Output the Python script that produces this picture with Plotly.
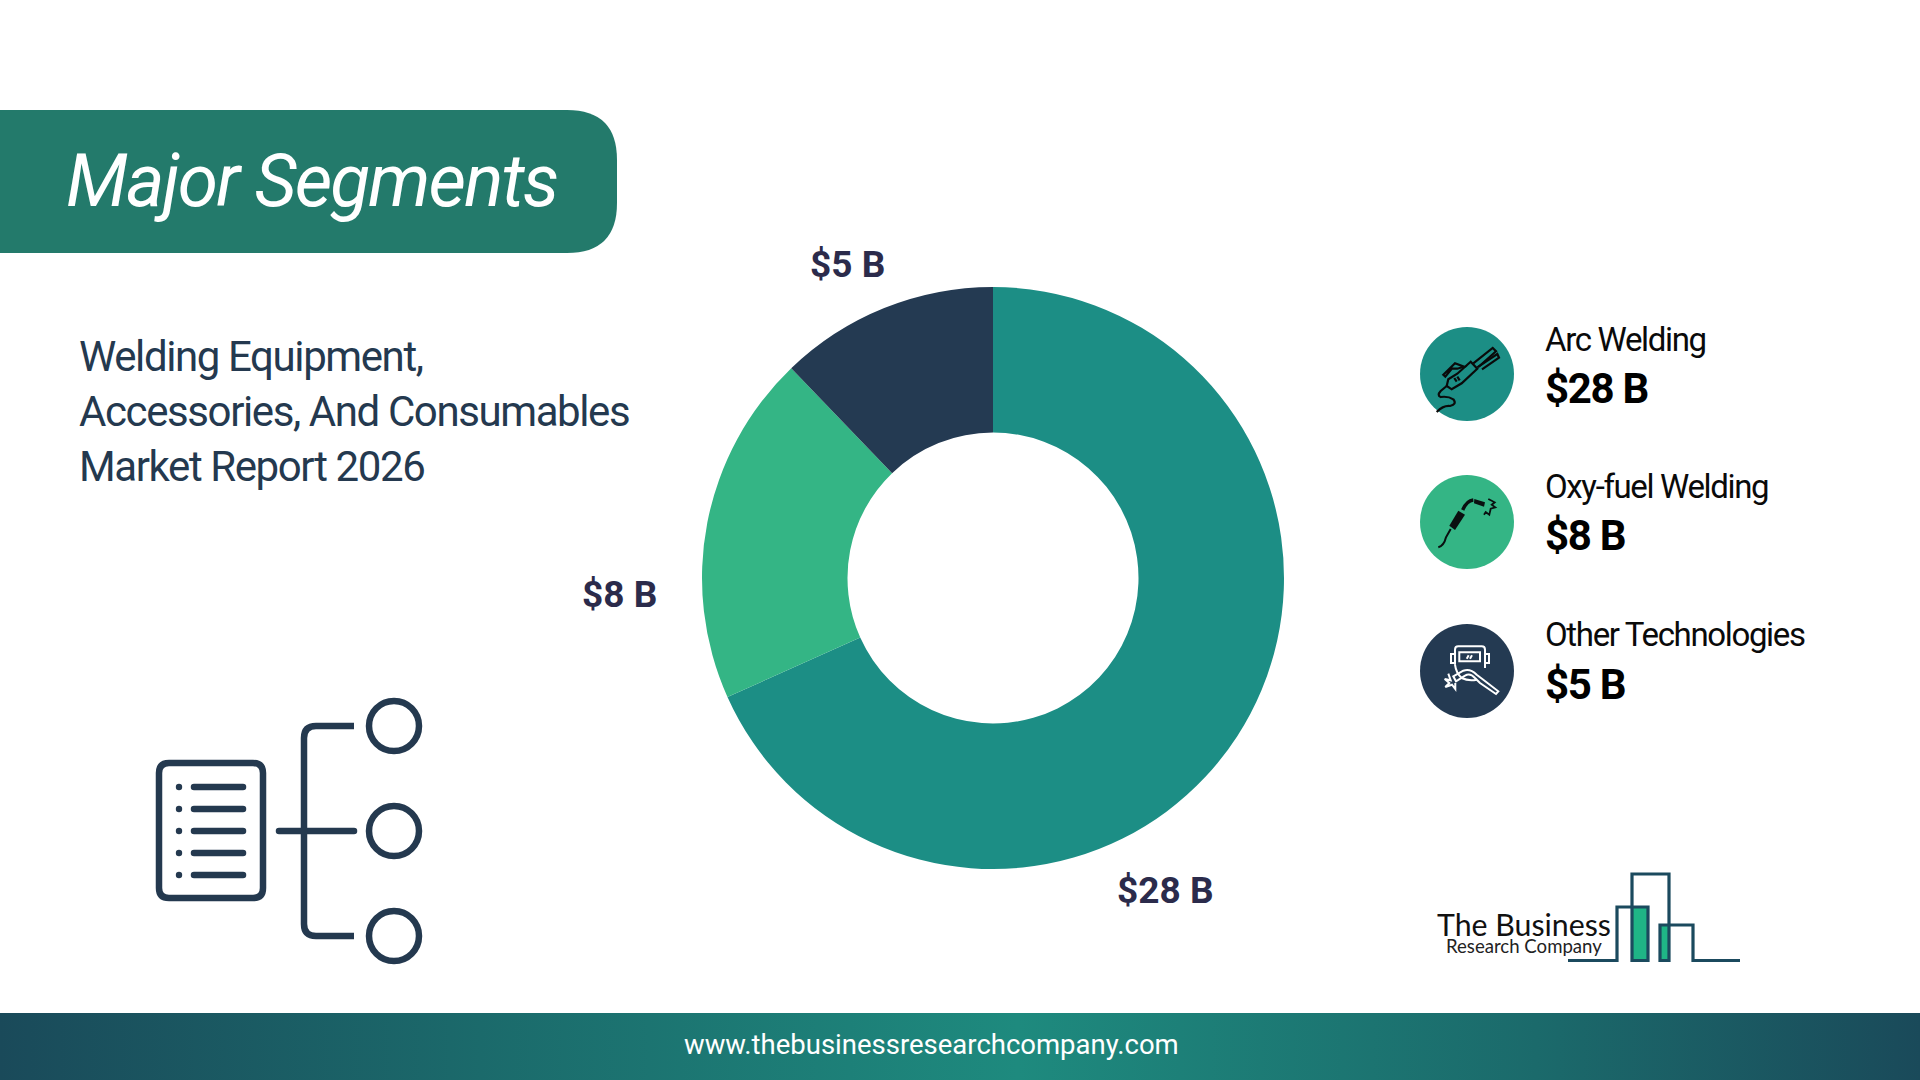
import re
import plotly.graph_objects as go

# data
segments = ["Arc Welding", "Oxy-fuel Welding", "Other Technologies"]
values = [28, 8, 5]
colors = ["#1C8E85", "#34B585", "#243A52"]
value_labels = ["$%d B" % v for v in values]

title_text = "Major Segments"
subtitle_lines = ["Welding Equipment,", "Accessories, And Consumables", "Market Report 2026"]
footer_text = "www.thebusinessresearchcompany.com"
logo_lines = ["The Business", "Research Company"]

W = 1920
H = 1080
FONT = "Roboto"
NAVY = "#24394F"
LOGO = "#1B4A5E"

shapes = []
notes = []


def path(d, color=None, fill=None, width=2):
    shapes.append(dict(type="path", path=d, xref="x", yref="y",
                       line=dict(color=color or "rgba(0,0,0,0)", width=width if color else 0),
                       fillcolor=fill or "rgba(0,0,0,0)"))


def circle(cx, cy, r, fill=None, color=None, width=0):
    shapes.append(dict(type="circle", xref="x", yref="y", x0=cx - r, x1=cx + r, y0=cy - r, y1=cy + r,
                       line=dict(color=color or "rgba(0,0,0,0)", width=width),
                       fillcolor=fill or "rgba(0,0,0,0)"))


def text(x, y, s, size, color, weight=400, anchor="left", style="normal", family=FONT, track=0):
    # the reference is set tighter than the font's own spacing
    if track:
        s = f'<span style="letter-spacing:{track}px">{s}</span>'
    notes.append(dict(x=x, y=y, xref="x", yref="y", text=s, showarrow=False, xanchor=anchor,
                      yanchor="middle", align=anchor,
                      font=dict(family=family, size=size, color=color, weight=weight, style=style)))


def pill(x0, x1, y, w, color):
    # line with round ends
    r = w / 2
    path(f"M{x0} {y - r} L{x1} {y - r} Q{x1 + r} {y - r} {x1 + r} {y} Q{x1 + r} {y + r} {x1} {y + r} "
         f"L{x0} {y + r} Q{x0 - r} {y + r} {x0 - r} {y} Q{x0 - r} {y - r} {x0} {y - r} Z", fill=color)


def icon(d, ox, oy):
    # icon paths are drawn in the 96px box at 3x, scale them back down
    out = []
    n = 0
    for tok in re.findall(r"[A-Z]|[\d.]+", d):
        if tok.isalpha():
            out.append(tok)
        else:
            out.append(f"{float(tok) / 3 + (ox if n % 2 == 0 else oy):.1f}")
            n += 1
    return " ".join(out)


# header banner
path("M0 110 L567 110 Q617 110 617 160 L617 203 Q617 253 567 253 L0 253 Z", fill="#237A6B")
text(63.5, 181, title_text, 73, "white", weight=400, style="italic", track=-1.85)

# subtitle
for i, line in enumerate(subtitle_lines):
    text(77, 356 + 55 * i, line, 42, NAVY, track=-1.4)

# list icon, bottom left
path("M169 763 L253 763 Q263 763 263 773 L263 888 Q263 898 253 898 L169 898 Q159 898 159 888 "
     "L159 773 Q159 763 169 763 Z", color=NAVY, width=6.5)
for y in [787, 809, 831, 853, 875]:
    circle(179, y, 3.2, fill=NAVY)
    pill(194, 243, y, 6.5, NAVY)
pill(279, 354, 831, 6.5, NAVY)
path("M354 726 L316 726 Q304 726 304 738 L304 924 Q304 936 316 936 L354 936", color=NAVY, width=6.5)
for y in [726, 831, 936]:
    circle(394, y, 25, color=NAVY, width=6.5)

# legend on the right
legend_y = [374, 522, 671]
name_y = [339.5, 486, 634.5]
amount_y = [388, 535.5, 684]
for name, c, y, ny, ay, lab in zip(segments, colors, legend_y, name_y, amount_y, value_labels):
    circle(1467, y, 47, fill=c)
    text(1543, ny, name, 33, "#0A0A0A", weight=400, track=-1.35)
    text(1543, ay, lab, 42, "#000000", weight=700, track=-1.3)

# arc welding gun
ox, oy = 1420, 326
for d in ["M152 107 L172 128 L125 172 L95 190 L80 180 L85 160 L112 143 Z",
          "M160 112 L218 66 L228 76 L176 122",
          "M172 124 L232 84 L237 95 L186 130",
          "M70 146 L105 112 L132 122 L112 128 L95 128 L76 152 Z",
          "M80 180 L62 195 Q50 208 62 213 Q85 210 100 220 Q112 235 90 240 Q70 238 50 258",
          "M103 156 L110 167", "M112 152 L119 163"]:
    path(icon(d, ox, oy), color="#0A0A0A", width=2.2)

# oxy-fuel torch
ox, oy = 1420, 474
path(icon("M88 155 L115 110 L135 122 L105 168 Z", ox, oy), fill="#0A1010")
path(icon("M163 75 L195 85 L192 98 L162 88 Z", ox, oy), fill="#0A1010")
path(icon("M128 108 Q140 80 160 78", ox, oy), color="#0A1010", width=3.5)
path(icon("M55 220 Q72 215 78 190 L92 165", ox, oy), color="#0A1010", width=2)
path(icon("M205 75 L224 85 L215 92 L226 100 L212 104 L208 122 L197 114 L192 122", ox, oy),
     color="#0A1010", width=1.8)

# helmet and torch
ox, oy = 1420, 623
for d in ["M105 125 L105 80 Q105 70 115 70 L185 70 Q195 70 195 80 L195 135",
          "M105 93 L93 93 L93 120 L105 120", "M195 93 L207 93 L207 120 L195 120",
          "M118 88 L180 88 L180 115 L118 115 Z",
          "M140 107 L146 97", "M150 107 L156 97",
          "M105 125 Q108 150 125 165 Q145 175 170 170",
          "M100 160 L130 143 Q150 135 170 155 L190 170 L235 205 L228 213 L180 180 L165 165 Q150 148 135 158 L108 175 Z",
          "M85 152 L92 172 L74 168 L88 180 L76 192 L96 185 L106 198 L106 180"]:
    path(icon(d, ox, oy), color="white", width=2)

# logo, bottom right
path("M1632 960 L1648 960 L1648 907 L1632 907 Z", fill="#1FB586")
path("M1660 960 L1669 960 L1669 925 L1660 925 Z", fill="#1FB586")
path("M1568 960.5 L1617 960.5 L1617 907 L1648 907 L1648 960.5 L1632 960.5 L1632 874 L1669 874 L1669 960.5 "
     "L1660 960.5 L1660 925 L1693 925 L1693 960.5 L1740 960.5", color=LOGO, width=3.2)
text(1434.5, 924, logo_lines[0], 30.3, "#111111", family="Lato", weight=400)
text(1444, 946, logo_lines[1], 18.6, "#222222", family="Lato", weight=400)

# labels around the ring
label_pos = [(1165, 890), (619, 594), (847, 264)]
for lab, (x, y) in zip(value_labels, label_pos):
    text(x, y, lab, 37, "#2B2B4B", weight=700, anchor="center")

# footer
text(931, 1044, footer_text, 27.5, "white", anchor="center")

fig = go.Figure()

fig.add_trace(go.Scatter(
    x=[0, W, W, 0, 0], y=[1013, 1013, H, H, 1013], mode="lines", fill="toself",
    line=dict(width=0), hoverinfo="skip", showlegend=False,
    fillgradient=dict(type="horizontal", colorscale=[
        [0, "#1A4A5A"], [0.25, "#1B6A6B"], [0.53, "#1E8A7E"], [0.8, "#1B6A6B"], [1, "#1A4A5A"]]),
))

fig.add_trace(go.Pie(
    labels=segments, values=values, hole=0.5, sort=False, direction="clockwise", rotation=0,
    marker=dict(colors=colors, line=dict(width=0)), textinfo="none", showlegend=False,
    domain=dict(x=[(993 - 291) / W, (993 + 291) / W], y=[(H - 578 - 291) / H, (H - 578 + 291) / H]),
))

fig.update_layout(
    width=W, height=H, margin=dict(l=0, r=0, t=0, b=0), paper_bgcolor="white", plot_bgcolor="white",
    xaxis=dict(visible=False, range=[0, W], fixedrange=True),
    yaxis=dict(visible=False, range=[H, 0], fixedrange=True),
    shapes=shapes, annotations=notes,
)

fig.write_html("out.html", config=dict(displayModeBar=False),
               post_script="document.body.style.margin='0';")
